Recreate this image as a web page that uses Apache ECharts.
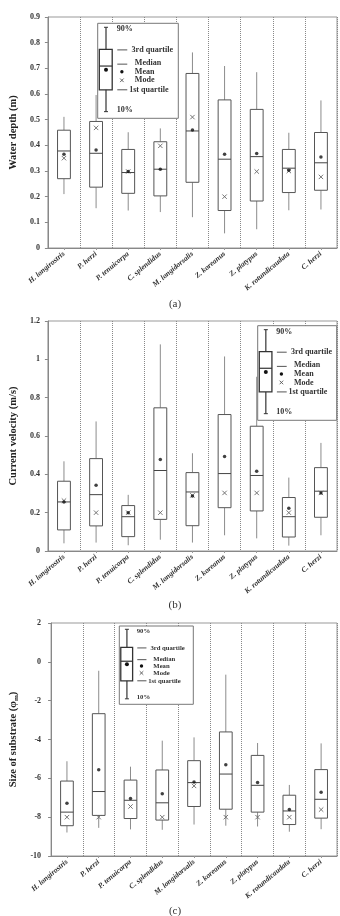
<!DOCTYPE html>
<html>
<head>
<meta charset="utf-8">
<script src="https://cdn.jsdelivr.net/npm/echarts@6.0.0/dist/echarts.min.js"></script>
<style>
  html, body { margin: 0; padding: 0; background: #fff; }
  #chart { width: 340px; height: 916px; }
</style>
</head>
<body>
<div id="chart"></div>
<script>
const species = ['H. longirostris', 'P. herzi', 'P. tenuicorpa', 'C. splendidus', 'M. longidorsalis',
  'Z. koreanus', 'Z. platypus', 'K. rotundicaudata', 'C. herzi']

// (a) water depth (m)
const depthP10 = [0.21, 0.155, 0.146, 0.14, 0.12, 0.057, 0.073, 0.147, 0.15]
const depthQ1 = [0.27, 0.237, 0.213, 0.203, 0.256, 0.146, 0.183, 0.216, 0.225]
const depthMed = [0.378, 0.369, 0.294, 0.307, 0.456, 0.346, 0.356, 0.311, 0.332]
const depthQ3 = [0.459, 0.493, 0.384, 0.414, 0.68, 0.577, 0.54, 0.384, 0.45]
const depthP90 = [0.511, 0.596, 0.451, 0.466, 0.762, 0.709, 0.685, 0.449, 0.575]
const depthMean = [0.365, 0.382, 0.298, 0.307, 0.46, 0.365, 0.368, 0.303, 0.355]
const depthMode = [0.35, 0.468, 0.298, 0.398, 0.51, 0.2, 0.298, 0.3, 0.277]

// (b) current velocity (m/s)
const velP10 = [0.04, 0.044, 0.03, 0.059, 0.044, 0.082, 0.066, 0.028, 0.082]
const velQ1 = [0.11, 0.131, 0.075, 0.165, 0.132, 0.226, 0.209, 0.073, 0.176]
const velMed = [0.256, 0.294, 0.179, 0.42, 0.308, 0.404, 0.394, 0.179, 0.312]
const velQ3 = [0.364, 0.482, 0.237, 0.747, 0.409, 0.712, 0.651, 0.279, 0.435]
const velP90 = [0.468, 0.676, 0.293, 1.078, 0.51, 1.015, 0.909, 0.383, 0.564]
const velMean = [0.256, 0.343, 0.2, 0.477, 0.287, 0.493, 0.416, 0.223, 0.303]
const velMode = [0.263, 0.2, 0.2, 0.2, 0.29, 0.303, 0.303, 0.2, 0.303]

// (c) size of substrate (phi m)
const subP10 = [-8.79, -8.55, -8.63, -8.65, -8.38, -8.44, -8.48, -8.75, -8.62]
const subQ1 = [-8.44, -7.91, -8.07, -8.15, -7.45, -7.59, -7.74, -8.38, -8.05]
const subMed = [-7.74, -6.68, -7.13, -7.26, -6.22, -5.78, -6.36, -7.68, -7.08]
const subQ3 = [-6.14, -2.67, -6.09, -5.57, -5.09, -3.61, -4.82, -6.87, -5.55]
const subP90 = [-5.12, -0.46, -5.4, -4.06, -3.89, -0.66, -4.18, -6.34, -4.2]
const subMean = [-7.28, -5.56, -7.04, -6.79, -6.19, -5.3, -6.22, -7.61, -6.72]
const subMode = [-8.0, -8.0, -7.45, -8.0, -6.39, -8.0, -8.0, -8.0, -7.61]

const serif = '"Liberation Serif", "DejaVu Serif", serif'

const mychart = echarts.init(document.getElementById('chart'))

const boxItem = (params, api) => {
  const i = api.value(0)
  const lo = api.coord([i, api.value(1)])
  const q1 = api.coord([i, api.value(2)])
  const med = api.coord([i, api.value(3)])
  const q3 = api.coord([i, api.value(4)])
  const hi = api.coord([i, api.value(5)])
  const half = api.size([1, 0])[0] * 0.2
  const x = lo[0]
  return {
    type: 'group',
    children: [
      { type: 'line', shape: { x1: x, y1: hi[1], x2: x, y2: q3[1] }, style: { stroke: '#8c8c8c', lineWidth: 1 } },
      { type: 'line', shape: { x1: x, y1: q1[1], x2: x, y2: lo[1] }, style: { stroke: '#8c8c8c', lineWidth: 1 } },
      {
        type: 'rect',
        shape: { x: x - half, y: q3[1], width: half * 2, height: q1[1] - q3[1] },
        style: { fill: '#fff', stroke: '#555', lineWidth: 1 }
      },
      { type: 'line', shape: { x1: x - half, y1: med[1], x2: x + half, y2: med[1] }, style: { stroke: '#444', lineWidth: 1 } }
    ]
  }
}

const modeItem = (params, api) => {
  const p = api.coord([api.value(0), api.value(1)])
  const d = 2.2
  return {
    type: 'group',
    children: [
      { type: 'line', shape: { x1: p[0] - d, y1: p[1] - d, x2: p[0] + d, y2: p[1] + d }, style: { stroke: '#666', lineWidth: 0.9 } },
      { type: 'line', shape: { x1: p[0] - d, y1: p[1] + d, x2: p[0] + d, y2: p[1] - d }, style: { stroke: '#666', lineWidth: 0.9 } }
    ]
  }
}

// the key box drawn inside each panel
const keyBox = (x0, y0, w, h) => {
  const X = f => x0 + f * w
  const Y = f => y0 + f * h
  const fs = Math.round(h * 0.085 * 10) / 10
  const txt = (x, y, s) => ({
    type: 'text', z: 100, x: x, y: y,
    style: { text: s, fontSize: fs, fontWeight: 'bold', fontFamily: serif, fill: '#333', verticalAlign: 'middle' }
  })
  const ln = (x1, y1, x2, y2, c, lw) => ({
    type: 'line', z: 100, shape: { x1: x1, y1: y1, x2: x2, y2: y2 }, style: { stroke: c || '#555', lineWidth: lw || 1 }
  })
  const cx = X(0.103)
  return [
    { type: 'rect', z: 99, shape: { x: x0, y: y0, width: w, height: h }, style: { fill: '#fff', stroke: '#777', lineWidth: 1 } },
    ln(cx, Y(0.042), cx, Y(0.93), '#333', 1.2),
    ln(cx - 2, Y(0.042), cx + 2, Y(0.042), '#333', 1),
    ln(cx - 2, Y(0.93), cx + 2, Y(0.93), '#333', 1),
    { type: 'rect', z: 100, shape: { x: X(0.02), y: Y(0.274), width: X(0.18) - X(0.02), height: Y(0.7) - Y(0.274) }, style: { fill: '#fff', stroke: '#333', lineWidth: 1.3 } },
    ln(X(0.02), Y(0.45), X(0.18), Y(0.45), '#333', 1.2),
    { type: 'circle', z: 101, shape: { cx: cx, cy: Y(0.49), r: 2 }, style: { fill: '#111' } },
    txt(X(0.236), Y(0.063), '90%'),
    ln(X(0.243), Y(0.28), X(0.367), Y(0.28)),
    txt(X(0.42), Y(0.28), '3rd quartile'),
    ln(X(0.243), Y(0.43), X(0.367), Y(0.43)),
    txt(X(0.46), Y(0.42), 'Median'),
    { type: 'circle', z: 101, shape: { cx: X(0.3), cy: Y(0.51), r: 1.7 }, style: { fill: '#111' } },
    txt(X(0.46), Y(0.51), 'Mean'),
    ln(X(0.3) - 1.8, Y(0.6) - 1.8, X(0.3) + 1.8, Y(0.6) + 1.8, '#555', 0.9),
    ln(X(0.3) - 1.8, Y(0.6) + 1.8, X(0.3) + 1.8, Y(0.6) - 1.8, '#555', 0.9),
    txt(X(0.46), Y(0.6), 'Mode'),
    ln(X(0.243), Y(0.7), X(0.367), Y(0.7)),
    txt(X(0.39), Y(0.7), '1st quartile'),
    txt(X(0.236), Y(0.91), '10%')
  ]
}

const caption = (y, s) => ({
  type: 'text', x: 175, y: y,
  style: { text: s, fontSize: 11, fontFamily: serif, fill: '#333', align: 'center', verticalAlign: 'middle' }
})

const grids = [
  { left: 40, top: 17, width: 297, height: 231 },
  { left: 40, top: 321, width: 297, height: 230 },
  { left: 43, top: 623, width: 294, height: 233 }
]

const panels = [
  { p10: depthP10, q1: depthQ1, med: depthMed, q3: depthQ3, p90: depthP90, mean: depthMean, mode: depthMode,
    min: 0, max: 0.9, interval: 0.1, name: 'Water depth (m)', nameGap: 24, margin: 8 },
  { p10: velP10, q1: velQ1, med: velMed, q3: velQ3, p90: velP90, mean: velMean, mode: velMode,
    min: 0, max: 1.2, interval: 0.2, name: 'Current velocity (m/s)', nameGap: 24, margin: 8 },
  { p10: subP10, q1: subQ1, med: subMed, q3: subQ3, p90: subP90, mean: subMean, mode: subMode,
    min: -10, max: 2, interval: 2, name: 'Size of substrate ({p|φ}{s|m})', nameGap: 26, margin: 10 }
]

const xAxis = []
const yAxis = []
const series = []
panels.forEach((p, k) => {
  xAxis.push({
    gridIndex: k,
    type: 'category',
    data: species,
    boundaryGap: true,
    axisLine: { onZero: false, lineStyle: { color: '#888' } },
    axisTick: { show: true, alignWithLabel: true, length: 2, lineStyle: { color: '#999' } },
    axisLabel: {
      interval: 0, rotate: 40, margin: 5, fontSize: 7.5, fontStyle: 'italic', fontWeight: 'bold',
      fontFamily: serif, color: '#333'
    },
    splitLine: { show: true, lineStyle: { type: 'dotted', color: '#888', width: 1 } }
  })
  yAxis.push({
    gridIndex: k,
    type: 'value',
    min: p.min,
    max: p.max,
    interval: p.interval,
    axisLine: { show: true, onZero: false, lineStyle: { color: '#888' } },
    axisTick: { show: true, length: 3, lineStyle: { color: '#888' } },
    splitLine: { show: false },
    axisLabel: { fontSize: 8, fontWeight: 'bold', fontFamily: serif, color: '#333', margin: p.margin },
    name: p.name,
    nameLocation: 'middle',
    nameGap: p.nameGap,
    nameTextStyle: {
      fontSize: 10.5, fontWeight: 'bold', fontFamily: serif, color: '#222',
      rich: {
        p: { fontSize: 10.5, fontWeight: 'bold', fontFamily: serif, color: '#222' },
        s: { fontSize: 7, fontWeight: 'bold', fontFamily: serif, color: '#222', padding: [5, 0, 0, 0] }
      }
    }
  })
  series.push({
    type: 'custom',
    xAxisIndex: k,
    yAxisIndex: k,
    renderItem: boxItem,
    encode: { x: 0, y: [1, 2, 3, 4, 5] },
    data: species.map((s, i) => [i, p.p10[i], p.q1[i], p.med[i], p.q3[i], p.p90[i]])
  })
  series.push({
    type: 'custom',
    xAxisIndex: k,
    yAxisIndex: k,
    renderItem: modeItem,
    encode: { x: 0, y: 1 },
    data: species.map((s, i) => [i, p.mode[i]])
  })
  series.push({
    type: 'scatter',
    xAxisIndex: k,
    yAxisIndex: k,
    symbol: 'circle',
    symbolSize: 3.5,
    itemStyle: { color: '#111' },
    data: species.map((s, i) => [i, p.mean[i]])
  })
})

const option = {
  animation: false,
  backgroundColor: '#fff',
  grid: grids.map(g => Object.assign({ show: true, borderColor: '#999', borderWidth: 1, backgroundColor: 'transparent' }, g)),
  xAxis: xAxis,
  yAxis: yAxis,
  series: series,
  graphic: [
    ...keyBox(97.7, 23.3, 80.6, 95),
    ...keyBox(257.7, 325.7, 79, 94.6),
    ...keyBox(119.3, 626, 74, 78.3),
    caption(304, '(a)'),
    caption(605, '(b)'),
    caption(911, '(c)')
  ]
}
option && mychart.setOption(option)
</script>
</body>
</html>
